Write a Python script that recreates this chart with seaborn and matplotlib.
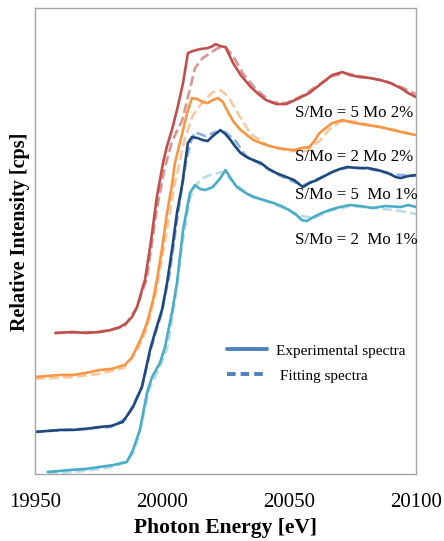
import matplotlib
matplotlib.use('Agg')
import matplotlib.pyplot as plt
import seaborn as sns
from matplotlib.lines import Line2D

# --- DATA (intensity in arbitrary units) ---
red_exp_e = [19958, 19965, 19970, 19975.6, 19980, 19983.5, 19986, 19988.2, 19990.2, 19992.1, 19993.3,
             19995.5, 19998, 20000.4, 20002, 20003.9, 20006, 20008.3, 20010.2, 20012, 20015, 20018,
             20020, 20021, 20023, 20025, 20028, 20031, 20035, 20038, 20041, 20045, 20049, 20054,
             20058, 20061, 20064, 20067, 20071, 20074, 20078, 20082, 20086, 20090, 20094, 20097, 20100]
red_exp_i = [141, 142, 141, 142, 144, 147, 151, 157, 167, 184, 194,
             230, 277, 311, 328, 344, 365, 391, 421, 423, 425, 426,
             428, 430, 428, 427, 411, 399, 387, 380, 374, 370, 370, 376,
             381, 387, 393, 399, 402, 399, 397, 396, 394, 391, 386, 381, 377]
red_fit_e = [19958, 19975, 19985, 19990, 19994, 19998, 20001, 20004, 20008, 20011, 20013, 20016,
             20019, 20022, 20025, 20028, 20032, 20037, 20043, 20049, 20055, 20061, 20067, 20072,
             20080, 20088, 20095, 20100]
red_fit_i = [141, 142, 147, 166, 195, 265, 305, 333, 354, 385, 406, 416,
             421, 426, 427, 418, 400, 385, 372, 371, 378, 388, 398, 401,
             397, 393, 386, 380]

orange_exp_e = [19950, 19955, 19960, 19965, 19970, 19975.6, 19980, 19985.4, 19988, 19990.2, 19992,
                19994.1, 19996.5, 19998, 20000, 20002, 20004, 20005.1, 20008.3, 20010, 20011.8,
                20014, 20016, 20018, 20020, 20022, 20024, 20025.6, 20028, 20031, 20036, 20040,
                20044, 20048, 20052, 20055, 20058, 20060, 20062, 20065, 20067, 20071, 20076,
                20081, 20086, 20091, 20096, 20100]
orange_exp_i = [97, 98, 99, 99, 101, 104, 105, 109, 116, 127, 137,
                151, 174, 194, 225, 261, 290, 311, 344, 362, 376,
                375, 372, 371, 374, 376, 372, 364, 353, 344, 334, 330,
                327, 325, 324, 326, 327, 333, 341, 347, 351, 354, 351,
                349, 347, 344, 341, 339]
orange_fit_e = [19950, 19965, 19975, 19985, 19990, 19994, 19998, 20001, 20005, 20009, 20012, 20016,
                20020, 20023, 20026, 20030, 20035, 20042, 20050, 20057, 20062, 20066, 20070, 20075,
                20082, 20092, 20100]
orange_fit_i = [95, 97, 100, 106, 122, 145, 185, 230, 290, 335, 358, 372,
                382, 384, 378, 360, 340, 328, 323, 323, 333, 345, 352, 353,
                349, 344, 339]

navy_exp_e = [19950, 19955, 19960, 19965, 19970, 19975.6, 19980, 19984.6, 19988.6, 19992.1, 19995.3,
              19997.2, 20000, 20002, 20004, 20005.9, 20008, 20009.1, 20010.2, 20011.8, 20014, 20016,
              20018, 20020, 20023, 20025, 20027, 20029, 20031, 20034, 20036, 20039, 20042, 20045,
              20048, 20052, 20054, 20055.5, 20058, 20061, 20064, 20067, 20070, 20073, 20077, 20081,
              20085, 20089, 20092, 20094, 20097, 20100]
navy_exp_i = [42, 43, 44, 44, 45, 47, 48, 52, 67, 87, 124,
              141, 164, 191, 225, 261, 290, 311, 331, 337, 336, 334,
              333, 338, 344, 340, 334, 327, 321, 316, 314, 311, 305, 301,
              298, 294, 290, 287, 291, 294, 298, 302, 305, 307, 306, 306,
              304, 301, 297, 296, 298, 299]
navy_fit_e = [19950, 19980, 19986, 19992, 19996, 20000, 20003, 20006, 20009, 20011, 20013, 20017,
              20021, 20025, 20029, 20033, 20040, 20046, 20052, 20056, 20062, 20068, 20074, 20082,
              20090, 20100]
navy_fit_i = [42, 47, 56, 86, 128, 162, 200, 255, 305, 330, 342, 338,
              342, 342, 333, 318, 308, 299, 292, 289, 296, 303, 307, 305,
              300, 298]

cyan_exp_e = [19955, 19960, 19964, 19970, 19975.6, 19981, 19986.2, 19988.6, 19991.3, 19994.1, 19996.1,
              19999.2, 20001.2, 20003.9, 20005.9, 20008.3, 20011, 20013, 20015, 20017, 20020, 20023,
              20025, 20027, 20029.5, 20033, 20036, 20040, 20044, 20047, 20050, 20053, 20055, 20057,
              20059, 20062, 20066, 20070, 20074, 20078, 20083, 20088, 20094, 20097, 20100]
cyan_exp_i = [2, 3, 4, 5, 7, 9, 12, 24, 44, 81, 97,
              111, 127, 161, 191, 244, 281, 289, 285, 284, 287, 296,
              304, 296, 287, 281, 277, 274, 271, 268, 264, 259, 254, 253,
              256, 260, 264, 267, 269, 268, 266, 268, 267, 269, 267]
cyan_fit_e = [19955, 19965, 19976, 19982, 19986, 19989, 19992, 19995, 19999, 20002, 20005, 20008,
              20011, 20013, 20016, 20020, 20024, 20028, 20034, 20042, 20050, 20055, 20060, 20066,
              20074, 20084, 20094, 20100]
cyan_fit_i = [0, 2, 5, 8, 12, 22, 50, 85, 106, 125, 170, 230,
              275, 288, 296, 300, 302, 292, 280, 272, 264, 258, 256, 263,
              268, 266, 263, 260]

labels = ['S/Mo = 5 Mo 2%', 'S/Mo = 2 Mo 2%', 'S/Mo = 5  Mo 1%', 'S/Mo = 2  Mo 1%']
label_y = [361, 317, 279, 234]
x_ticks = [19950, 20000, 20050, 20100]

sns.set_style('white')
plt.rcParams['font.family'] = ['Liberation Serif', 'DejaVu Serif']
plt.rcParams['text.color'] = 'black'
plt.rcParams['axes.labelcolor'] = 'black'
plt.rcParams['xtick.color'] = 'black'

fig = plt.figure(figsize=(4.44, 5.41), dpi=100)
ax = fig.add_axes([0.0788, 0.124, 0.858, 0.861])

series = [
    (red_exp_e, red_exp_i, red_fit_e, red_fit_i, '#c0504d', '#d99694'),
    (orange_exp_e, orange_exp_i, orange_fit_e, orange_fit_i, '#f79646', '#fac8a0'),
    (navy_exp_e, navy_exp_i, navy_fit_e, navy_fit_i, '#1f497d', '#8db3e2'),
    (cyan_exp_e, cyan_exp_i, cyan_fit_e, cyan_fit_i, '#4bacc6', '#b7dde8'),
]
for ee, ei, fe, fi, c_exp, c_fit in series:
    sns.lineplot(x=fe, y=fi, ax=ax, color=c_fit, linewidth=1.9, dashes=(4, 2.5),
                 linestyle='--', estimator=None, sort=False)
    sns.lineplot(x=ee, y=ei, ax=ax, color=c_exp, linewidth=1.9, estimator=None, sort=False)

for txt, yv in zip(labels, label_y):
    ax.text(20052.4, yv, txt, fontsize=12.2, ha='left', va='center', color='black')

handles = [Line2D([], [], color='#4f81bd', linewidth=2.8),
           Line2D([], [], color='#4f81bd', linewidth=2.8, linestyle=(0, (2.2, 1.3)))]
ax.legend(handles, ['Experimental spectra', ' Fitting spectra'], loc='upper left',
          bbox_to_anchor=(0.504, 0.279), frameon=False, fontsize=11, handlelength=2.6,
          handletextpad=0.6, labelspacing=0.75, borderpad=0, borderaxespad=0)

ax.set_xlim(19950, 20100)
ax.set_ylim(0, 466)
ax.set_xticks(x_ticks)
ax.set_xticklabels([str(t) for t in x_ticks], fontsize=15, color='black')
ax.set_yticks([])
ax.tick_params(axis='x', direction='in', length=4.5, width=0.8, color='#a6a6a6', pad=14,
               labelcolor='black')
for s in ax.spines.values():
    s.set_color('#a6a6a6')
    s.set_linewidth(1.0)

ax.set_xlabel('Photon Energy [eV]', fontsize=15.5, fontweight='bold', labelpad=4)
ax.set_ylabel('Relative Intensity [cps]', fontsize=14.5, fontweight='bold')
ax.yaxis.set_label_coords(-0.012, 0.519)

fig.savefig('out.png', dpi=100)
